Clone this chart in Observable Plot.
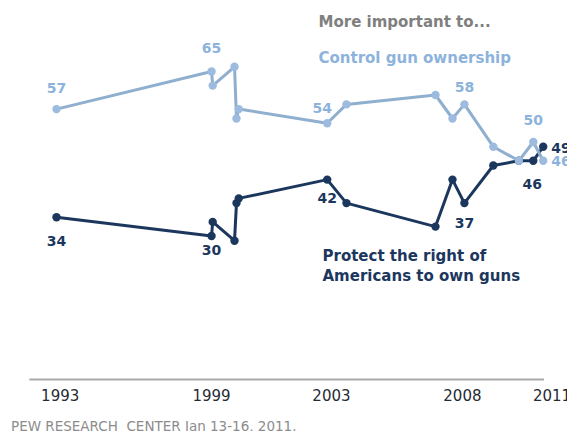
<!DOCTYPE html>
<html>
<head>
<meta charset="utf-8">
<script src="https://cdn.jsdelivr.net/npm/d3@7"></script>
<script src="https://cdn.jsdelivr.net/npm/@observablehq/plot@0.6"></script>
<style>
  html, body { margin: 0; padding: 0; background: #fff; }
  #chart svg { display: block; font-family: "DejaVu Sans", Verdana, sans-serif; }
  #caption { font-family: "DejaVu Sans", Verdana, sans-serif; font-size: 13.5px; line-height: 16px;
             color: #8c8c8c; margin-top: 8px; padding-left: 11px; white-space: pre; }
</style>
</head>
<body>
<div id="chart"></div>
<div id="caption">PEW RESEARCH  CENTER Jan 13-16, 2011.</div>
<script>
// Survey dates (decimal years)
const surveyTime = [1993.87, 1999.34, 1999.38, 2000.15, 2000.22, 2000.30, 2003.42, 2004.10, 2007.24, 2007.84, 2008.26, 2009.28, 2010.18, 2010.69, 2011.04];
// % saying more important to control gun ownership
const controlGun = [57, 65, 62, 66, 55, 57, 54, 58, 60, 55, 58, 49, 46, 50, 46];
// % saying more important to protect the right of Americans to own guns
const protectRights = [34, 30, 33, 29, 37, 38, 42, 37, 32, 42, 37, 45, 46, 46, 49];
// Which surveys carry a value label
const labeledSurveys = [0, 1, 6, 10, 13, 14];
// X-axis tick positions and labels
const tickPositions = [1994.0, 1999.34, 2003.57, 2008.19, 2011.35];
const tickLabels = ["1993", "1999", "2003", "2008", "2011"];
// Legend texts
const headingText = "More important to...";
const controlName = "Control gun ownership";
const protectName = ["Protect the right of", "Americans to own guns"];

const controlData = surveyTime.map((t, i) => ({t, v: controlGun[i], i}));
const protectData = surveyTime.map((t, i) => ({t, v: protectRights[i], i}));

const LIGHT_LINE = "#8fafcf", LIGHT_DOT = "#9dbbdf", LIGHT_TEXT = "#8db3dc";
const DARK = "#1c375d";
const FONT = "DejaVu Sans";

// label offsets (layout only)
const ctrlOff = {0: [0, -21], 1: [0, -23], 6: [-5, -15], 10: [0, -17], 13: [0, -21], 14: [8, 1]};
const protOff = {0: [0, 24], 1: [0, 15], 6: [0, 19], 10: [0, 20], 13: [-1, 24], 14: [8, 1.5]};

function labelMarks(data, off, fill) {
  return labeledSurveys.map(i => Plot.text([data[i]], {
    x: "t", y: "v", text: d => String(d.v),
    dx: off[i][0], dy: off[i][1],
    textAnchor: i === 14 ? "start" : "middle",
    lineAnchor: "middle",
    fill, fontWeight: "bold", fontSize: 14, fontFamily: FONT
  }));
}

const chart = Plot.plot({
  width: 567,
  height: 410,
  marginLeft: 56,
  marginRight: 24.3,
  marginTop: 47.5,
  marginBottom: 33.5,
  style: {background: "#fff", overflow: "visible"},
  x: {type: "linear", domain: d3.extent(surveyTime), axis: null},
  y: {domain: [0, 70], axis: null},
  marks: [
    Plot.ruleY([0], {stroke: "#a9a9a9", strokeWidth: 2, dy: 2.5, insetLeft: -26.7, insetRight: -1.3}),
    Plot.text(tickPositions.map((p, k) => ({p, label: tickLabels[k]})), {
      x: "p", text: "label", frameAnchor: "bottom", dy: 19.5, lineAnchor: "middle",
      fill: "#262a33", fontSize: 15, fontFamily: FONT
    }),
    // protect line (drawn first; control sits on top)
    Plot.line(protectData, {x: "t", y: "v", stroke: DARK, strokeWidth: 3, curve: "linear"}),
    Plot.dot(protectData, {x: "t", y: "v", r: 4.2, fill: DARK, stroke: "none"}),
    Plot.line(controlData, {x: "t", y: "v", stroke: LIGHT_LINE, strokeWidth: 3, curve: "linear"}),
    Plot.dot(controlData, {x: "t", y: "v", r: 4.2, fill: LIGHT_DOT, stroke: "none"}),
    ...labelMarks(protectData, protOff, DARK),
    ...labelMarks(controlData, ctrlOff, LIGHT_TEXT),
    // legend texts
    Plot.text([headingText], {text: d => d, frameAnchor: "top-left", dx: 262, dy: -25.5,
      textAnchor: "start", lineAnchor: "middle", fill: "#7f7f7f", fontWeight: "bold", fontSize: 15, fontFamily: FONT}),
    Plot.text([controlName], {text: d => d, frameAnchor: "top-left", dx: 262, dy: 10,
      textAnchor: "start", lineAnchor: "middle", fill: LIGHT_TEXT, fontWeight: "bold", fontSize: 15, fontFamily: FONT}),
    Plot.text([protectName[0]], {text: d => d, frameAnchor: "top-left", dx: 266, dy: 208.5,
      textAnchor: "start", lineAnchor: "middle", fill: DARK, fontWeight: "bold", fontSize: 15, fontFamily: FONT}),
    Plot.text([protectName[1]], {text: d => d, frameAnchor: "top-left", dx: 266, dy: 228.5,
      textAnchor: "start", lineAnchor: "middle", fill: DARK, fontWeight: "bold", fontSize: 15, fontFamily: FONT})
  ]
});
document.getElementById("chart").appendChild(chart);
</script>
</body>
</html>
